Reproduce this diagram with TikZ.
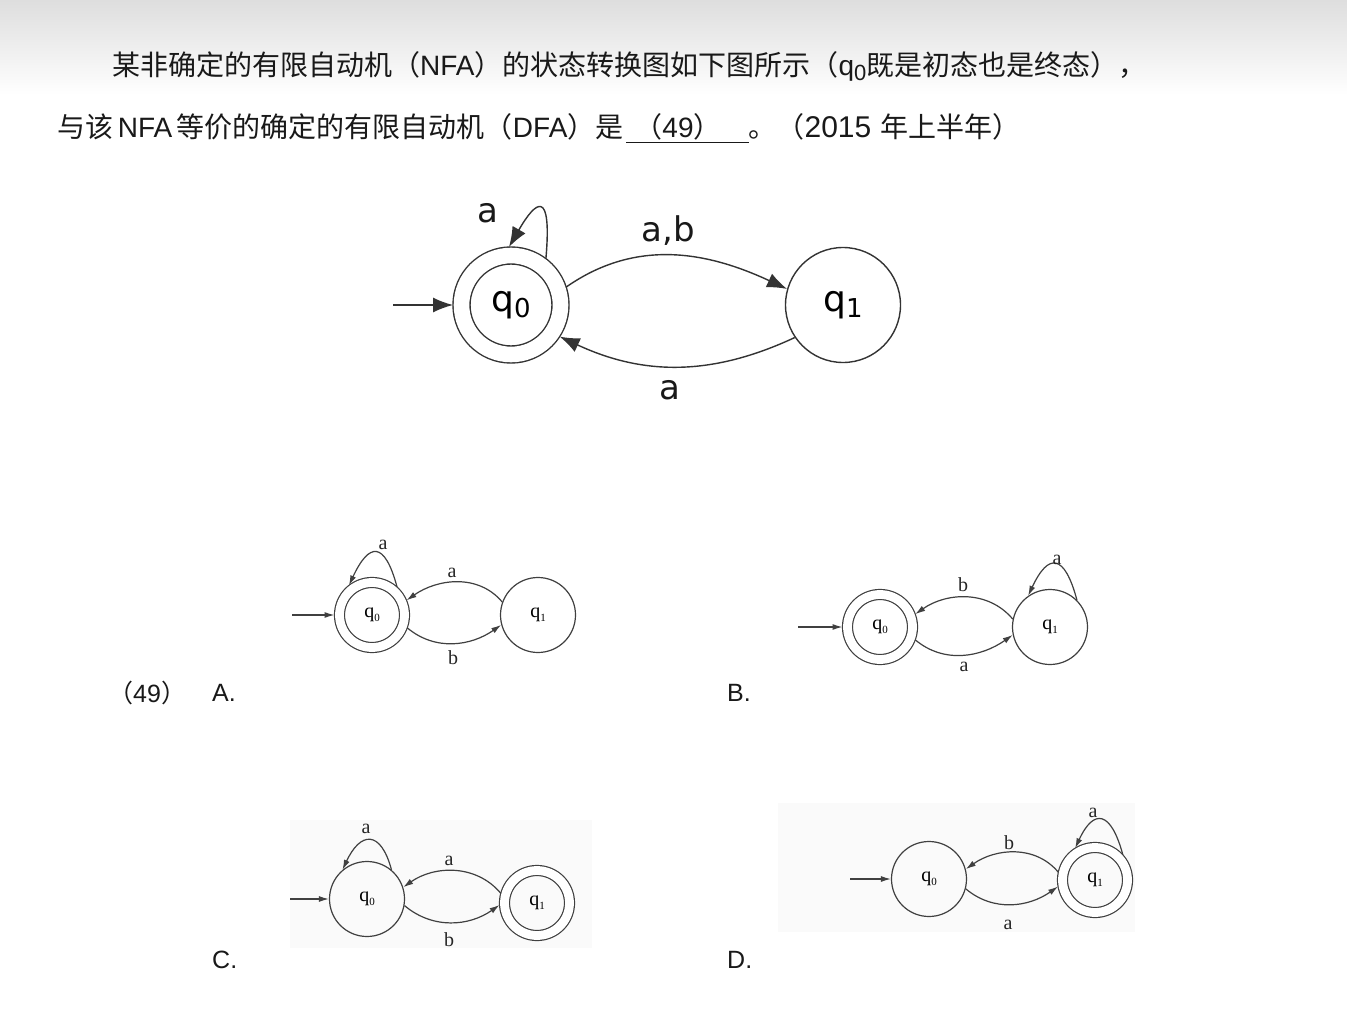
\documentclass[tikz,border=0pt]{standalone}
\usepackage{fontspec}
\setmainfont{Liberation Sans}
\newfontfamily\cjk{Noto Sans CJK SC}
\newfontfamily\dvs{DejaVu Sans}
\newfontfamily\tms{Liberation Serif}
\usetikzlibrary{arrows.meta}
\newcommand\zh[1]{{\cjk #1}}
\begin{document}
\begin{tikzpicture}[x=1pt,y=-1pt,
  txt/.style={anchor=west,inner sep=0pt,text=black!90,font=\fontsize{28}{28}\selectfont},
  bigstate/.style={circle,draw=black!80,line width=1.4pt,minimum size=115pt,inner sep=0pt,font=\dvs\fontsize{36}{36}\selectfont},
  bigacc/.style={bigstate,double,double distance=15.6pt,minimum size=99pt,outer sep=8.5pt},
  bigedge/.style={draw=black!80,line width=1.4pt,-{Latex[length=20pt,width=15pt]}},
  biglab/.style={inner sep=0pt,font=\dvs\fontsize{34}{34}\selectfont,text=black!90},
  sstate/.style={circle,draw=black!75,line width=1.2pt,minimum size=75pt,inner sep=0pt,font=\tms\fontsize{20}{20}\selectfont},
  sacc/.style={sstate,double,double distance=8.8pt,minimum size=65pt,outer sep=5pt},
  sedge/.style={draw=black!75,line width=1.2pt,-{Latex[length=10pt,width=6pt]}},
  slab/.style={inner sep=0pt,font=\tms\fontsize{20}{20}\selectfont,text=black!85},
  opt/.style={inner sep=0pt,anchor=west,font=\fontsize{25}{25}\selectfont,text=black!90}]
\useasboundingbox (0,0) rectangle (1347,1019);
\fill[white] (0,0) rectangle (1347,1019);
\shade[top color=black!13,bottom color=white] (0,0) rectangle (1347,95);
\fill[black!2] (290,820) rectangle (592,948);
\fill[black!2] (778,803) rectangle (1135,932);

% question text
\node[txt] (t1) at (112,66) {\zh{某非确定的有限自动机（}NFA\zh{）的状态转换图如下图所示（}q\raisebox{-5pt}{\fontsize{22}{22}\selectfont 0}\zh{既是初态也是终态），}};
\node[txt] (t2) at (57,128) {\zh{与该}\,NFA\,\zh{等价的确定的有限自动机（}DFA\zh{）是}\hspace{3pt}\underline{\hspace{8pt}\zh{（}49\zh{）}\hspace{27pt}}\zh{。（}{\fontsize{30}{30}\selectfont 2015}\hspace{9pt}\zh{年上半年）}};

% main NFA
\node[bigacc] (q0) at (511,305) {q\raisebox{-6pt}{\fontsize{26}{26}\selectfont 0}};
\node[bigstate] (q1) at (843,305) {q\raisebox{-6pt}{\fontsize{26}{26}\selectfont 1}};
\coordinate (i0) at (393,305);
\draw[bigedge] (i0) -- (q0);
\draw[bigedge] (q0.53) .. controls +(-85:70) and +(-60:55) .. (q0.92);
\draw[bigedge] (q0.18) to[out=35,in=155] (q1.164);
\draw[bigedge] (q1.214) to[out=205,in=-25] (q0.-33);
\node[biglab] (la) at (488,213) {a};
\node[biglab] (lab) at (668,231) {a,b};
\node[biglab] (lba) at (670,390) {a};

% option A
\node[opt] (n49) at (108,693) {\zh{（}49\zh{）}};
\node[opt] (oA) at (212,693) {A.};
\node[sacc] (a0) at (372,615) {q\raisebox{-4pt}{\fontsize{11}{11}\selectfont 0}};
\node[sstate] (a1) at (538,615) {q\raisebox{-4pt}{\fontsize{11}{11}\selectfont 1}};
\coordinate (ia) at (292,615);
\draw[sedge] (ia) -- (a0);
\draw[sedge] (a0.48) .. controls +(-105:48) and +(-65:48) .. (a0.128);
\draw[sedge] (a1.160) to[out=130,in=35] (a0.23);
\draw[sedge] (a0.-20) to[out=-40,in=-145] (a1.195);
\node[slab] (aa) at (383,545) {a};
\node[slab] (ab) at (452,573) {a};
\node[slab] (ac) at (453,658) {b};

% option B
\node[opt] (oB) at (727,693) {B.};
\node[sacc] (b0) at (880,627) {q\raisebox{-4pt}{\fontsize{11}{11}\selectfont 0}};
\node[sstate] (b1) at (1050,627) {q\raisebox{-4pt}{\fontsize{11}{11}\selectfont 1}};
\coordinate (ib) at (798,627);
\draw[sedge] (ib) -- (b0);
\draw[sedge] (b1.45) .. controls +(-105:48) and +(-65:48) .. (b1.125);
\draw[sedge] (b1.168) to[out=130,in=35] (b0.20);
\draw[sedge] (b0.-20) to[out=-40,in=-145] (b1.192);
\node[slab] (ba) at (1057,560) {a};
\node[slab] (bb) at (963,585) {b};
\node[slab] (bc) at (964,667) {a};

% option C
\node[opt] (oC) at (212,960) {C.};
\node[sstate] (c0) at (367,899) {q\raisebox{-4pt}{\fontsize{11}{11}\selectfont 0}};
\node[sacc] (c1) at (537,903) {q\raisebox{-4pt}{\fontsize{11}{11}\selectfont 1}};
\coordinate (ic) at (290,899);
\draw[sedge] (ic) -- (c0);
\draw[sedge] (c0.50) .. controls +(-105:42) and +(-65:42) .. (c0.130);
\draw[sedge] (c1.165) to[out=130,in=35] (c0.18);
\draw[sedge] (c0.-10) to[out=-40,in=-145] (c1.183);
\node[slab] (ca) at (366,829) {a};
\node[slab] (cb) at (449,861) {a};
\node[slab] (cc) at (449,940) {b};

% option D
\node[opt] (oD) at (727,960) {D.};
\node[sstate] (d0) at (929,879) {q\raisebox{-4pt}{\fontsize{11}{11}\selectfont 0}};
\node[sacc] (d1) at (1095,880) {q\raisebox{-4pt}{\fontsize{11}{11}\selectfont 1}};
\coordinate (id) at (850,879);
\draw[sedge] (id) -- (d0);
\draw[sedge] (d1.42) .. controls +(-105:45) and +(-65:45) .. (d1.122);
\draw[sedge] (d1.168) to[out=130,in=35] (d0.15);
\draw[sedge] (d0.-15) to[out=-40,in=-145] (d1.190);
\node[slab] (da) at (1093,813) {a};
\node[slab] (db) at (1009,843) {b};
\node[slab] (dc) at (1008,925) {a};
\end{tikzpicture}
\end{document}
